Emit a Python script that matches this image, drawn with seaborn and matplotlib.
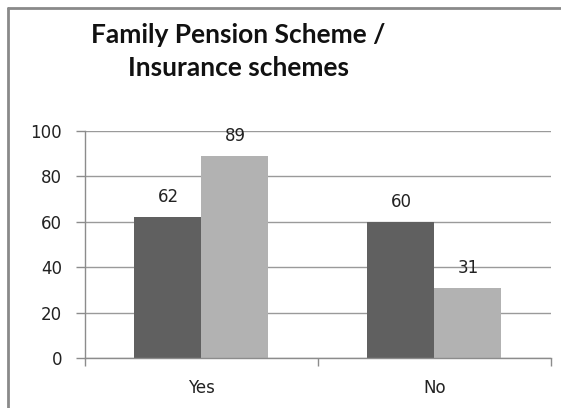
import matplotlib
matplotlib.use("Agg")
import matplotlib.pyplot as plt
from matplotlib.lines import Line2D
import pandas as pd
import seaborn as sns

categories = ["Yes", "No"]
series_names = ["Series 1", "Series 2"]
series_1 = [62, 60]
series_2 = [89, 31]
y_ticks = [0, 20, 40, 60, 80, 100]
title = "Family Pension Scheme /\nInsurance schemes"

df = pd.DataFrame({
    "category": categories * 2,
    "series": [series_names[0]] * len(categories) + [series_names[1]] * len(categories),
    "value": series_1 + series_2,
})

sns.set_theme(style="white")
plt.rcParams["font.family"] = ["DejaVu Sans"]

fig = plt.figure(figsize=(5.61, 4.08), dpi=100)
ax = fig.add_axes([0.1515, 0.1225, 0.8305, 0.5565])

sns.barplot(data=df, x="category", y="value", hue="series", order=categories,
            hue_order=series_names, palette=["#606060", "#b2b2b2"],
            width=0.575, gap=0, saturation=1, legend=False, ax=ax,
            edgecolor="none", linewidth=0)

for cont in ax.containers:
    ax.bar_label(cont, fmt="%d", padding=8, fontsize=12, color="#222222",
                 family="DejaVu Sans")

ax.set_ylim(0, 100)
ax.set_xlim(-0.5, 1.5)
ax.set_yticks(y_ticks)
ax.set_xlabel("")
ax.set_ylabel("")
ax.yaxis.grid(True, color="#9a9a9a", linewidth=1)
ax.set_axisbelow(True)
for side in ["top", "right"]:
    ax.spines[side].set_visible(False)
for side in ["left", "bottom"]:
    ax.spines[side].set_color("#8c8c8c")
    ax.spines[side].set_linewidth(1)

ax.tick_params(axis="y", which="both", left=True, length=6.5, width=1,
               color="#8c8c8c", pad=10, labelsize=12, labelcolor="#222222")
ax.tick_params(axis="x", bottom=False, pad=9, labelsize=12, labelcolor="#222222")
ax.set_xticks([-0.5, 0.5, 1.5], minor=True)
ax.tick_params(axis="x", which="minor", bottom=True, length=6, width=1, color="#8c8c8c")
for lbl in ax.get_xticklabels() + ax.get_yticklabels():
    lbl.set_family("DejaVu Sans")

fig.text(238 / 561, 1 - 23 / 408, title, ha="center", va="top", fontsize=19,
         fontweight="bold", family=["Lato", "DejaVu Sans"], linespacing=1.45,
         color="#111111")

# frame around the chart area (left and top edges)
fig.add_artist(Line2D([8 / 561, 8 / 561], [0, 1 - 8 / 408], transform=fig.transFigure,
                      color="#8a8a8a", linewidth=2))
fig.add_artist(Line2D([8 / 561, 1], [1 - 8 / 408, 1 - 8 / 408], transform=fig.transFigure,
                      color="#8a8a8a", linewidth=2))

fig.savefig("out.png", dpi=100)
